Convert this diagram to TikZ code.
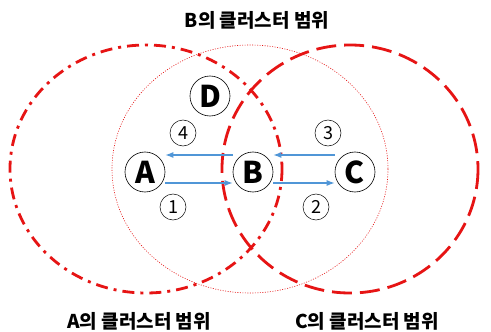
\documentclass[tikz,border=0pt]{standalone}
\usepackage{fontspec}
\newfontfamily\kr{Noto Sans CJK KR}
\usetikzlibrary{arrows.meta}
\definecolor{cred}{RGB}{230,20,20}
\definecolor{arrblue}{RGB}{80,150,215}
\begin{document}
\begin{tikzpicture}[x=1pt,y=-1pt,
  nodec/.style={circle,draw=black,line width=0.6pt,minimum size=40pt,inner sep=0pt,font=\kr\bfseries\fontsize{30}{30}\selectfont},
  numc/.style={circle,draw=black,line width=0.5pt,minimum size=26pt,inner sep=0pt,font=\kr\fontsize{18}{18}\selectfont},
  arr/.style={draw=arrblue,line width=1.2pt,-{Latex[length=8pt,width=6pt]}},
  ttl/.style={font=\kr\bfseries\fontsize{19}{20}\selectfont}]
\useasboundingbox (0,0) rectangle (491,332);
\fill[white] (0,0) rectangle (491,332);
% ranges
\draw[cred,line width=0.6pt,dash pattern=on 1pt off 1.5pt] (250,169) ellipse [x radius=138,y radius=124];
\draw[cred,line width=2.8pt,dash pattern=on 12pt off 6pt on 3pt off 6pt] (146,169) ellipse [x radius=136,y radius=124];
\draw[cred,line width=2.8pt,dash pattern=on 20pt off 8pt] (350,169) ellipse [x radius=128,y radius=124];
% nodes
\node[nodec] (A) at (145,172) {A};
\node[nodec] (B) at (253,172) {B};
\node[nodec] (C) at (355,172) {C};
\node[nodec] (D) at (210,96) {D};
\node[numc] (n4) at (183,133) {4};
\node[numc] (n3) at (328,133) {3};
\node[numc] (n1) at (173,207) {1};
\node[numc] (n2) at (316,207) {2};
% arrows
\draw[arr] (B.west |- 0,155) -- (A.east |- 0,155);
\draw[arr] (A.east |- 0,183) -- (B.west |- 0,183);
\draw[arr] (C.west |- 0,155) -- (B.east |- 0,155);
\draw[arr] (B.east |- 0,183) -- (C.west |- 0,183);
% titles
\node[ttl] (tB) at (257,20) {B의 클러스터 범위};
\node[ttl] (tA) at (139,321) {A의 클러스터 범위};
\node[ttl] (tC) at (367,321) {C의 클러스터 범위};
\end{tikzpicture}
\end{document}
